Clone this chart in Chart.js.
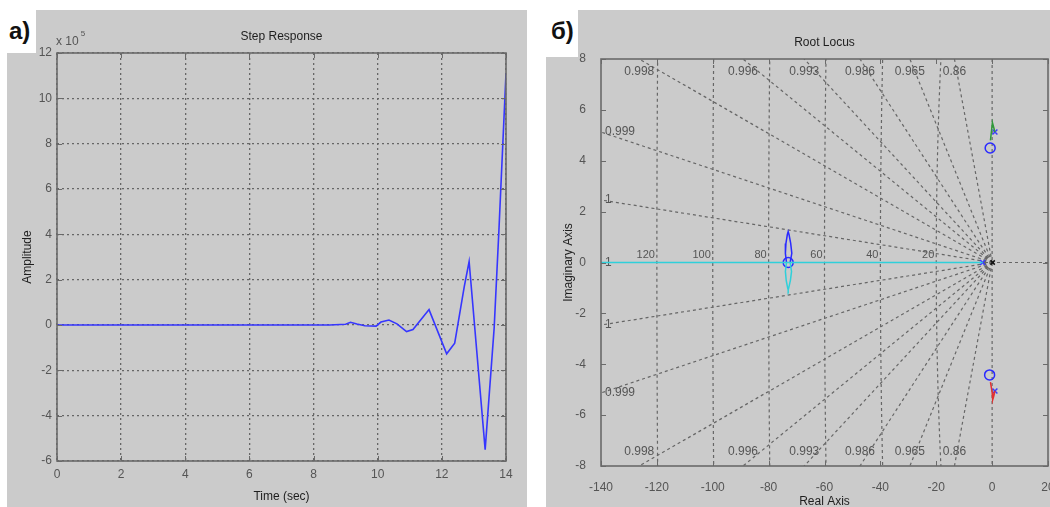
<!DOCTYPE html>
<html>
<head>
<meta charset="utf-8">
<title>Step Response / Root Locus</title>
<script src="https://cdn.jsdelivr.net/npm/chart.js@4.4.0/dist/chart.umd.min.js"></script>
<style>
  html, body { margin: 0; padding: 0; width: 1050px; height: 507px; overflow: hidden; background: #fff; }
  body { position: relative; font-family: "Liberation Sans", Arial, sans-serif; }
  .grey { position: absolute; background: #cbcbcb; }
  .tag { position: absolute; font: bold 24px "Liberation Sans Narrow", "Liberation Sans", Arial, sans-serif; color: #111; }
  canvas { position: absolute; }
</style>
</head>
<body>
<!-- figure backgrounds -->
<div class="grey" style="left:36px; top:10px; width:491px; height:44px;"></div>
<div class="grey" style="left:7px; top:53px; width:520px; height:454px;"></div>
<div class="grey" style="left:578px; top:10px; width:472px; height:48px;"></div>
<div class="grey" style="left:546px; top:57px; width:504px; height:450px;"></div>
<div class="tag" style="left:9px; top:17px;">а)</div>
<div class="tag" style="left:551px; top:17px;">б)</div>

<canvas id="step" width="520" height="497" style="left:7px; top:10px;"></canvas>
<canvas id="rlocus" width="530" height="500" style="left:546px; top:10px;"></canvas>

<script>
// step response, amplitude in units of 1e5
const stepTime = [0, 8.5, 9.0, 9.15, 9.35, 9.6, 9.95, 10.1, 10.35, 10.6, 10.9, 11.1, 11.6, 12.15, 12.4, 12.7, 12.85, 13.35, 13.63, 13.78, 14.0];
const stepAmp  = [0, 0, 0.03, 0.12, 0.04, -0.03, -0.05, 0.13, 0.22, 0.05, -0.29, -0.2, 0.68, -1.27, -0.8, 1.7, 2.8, -5.5, -0.15, 4.2, 11.1];

// root locus branches
const realBranchX = [-140, -3.4];
const realBranchY = [0, 0];
const upperLoopX = [-72.3, -71.7, -72.1, -72.7, -73.0, -73.3, -73.8, -74.0, -73.6];
const upperLoopY = [0, 0.36, 0.75, 1.1, 1.21, 1.1, 0.75, 0.36, 0];
const lowerLoopX = [-72.3, -71.8, -72.2, -72.8, -73.0, -73.2, -73.7, -74.0, -73.6];
const lowerLoopY = [0, -0.35, -0.7, -1.0, -1.08, -1.0, -0.7, -0.35, 0];
const greenBranchX = [-0.6, -0.2, 0.1, 0.6, 1.0];
const greenBranchY = [4.8, 5.2, 5.5, 5.3, 5.13];
const redBranchX = [-0.6, 0.0, 0.2, 0.6, 1.0];
const redBranchY = [-4.7, -5.1, -5.4, -5.25, -5.05];

// zeros (o) and poles (x)
const zeroX = [-73.0, -0.7, -0.9];
const zeroY = [0, 4.5, -4.42];
const poleX = [1.0, 1.0, -3.4];
const poleY = [5.13, -5.05, 0];
const originPoleX = [0.2];
const originPoleY = [0];

// s-plane grid
const dampingRatios = [0.86, 0.965, 0.986, 0.993, 0.996, 0.998, 0.99933, 0.999846, 1];
const dampingLabels = ['0.86', '0.965', '0.986', '0.993', '0.996', '0.998', '0.999', '1', '1'];
const naturalFreqs = [20, 40, 60, 80, 100, 120];

const stepTicksX = { min: 0, max: 14, step: 2 };
const stepTicksY = { min: -6, max: 12, step: 2 };
const locusTicksX = { min: -140, max: 20, step: 20 };
const locusTicksY = { min: -8, max: 8, step: 2 };

const FONT = '"Liberation Sans", Arial, sans-serif';
const tickFont = { family: FONT, size: 12 };
const tickColor = '#555';
const titleColor = '#1e1e1e';
const gridColor = '#666';

const pts = (xs, ys) => xs.map((v, i) => ({ x: v, y: ys[i] }));

// plot frame with inward tick marks on all four sides
const frame = {
  id: 'frame',
  afterDatasetsDraw(chart) {
    const { ctx, chartArea: a, scales } = chart;
    ctx.save();
    ctx.setLineDash([]);
    ctx.strokeStyle = '#6a6a6a';
    ctx.lineWidth = 1;
    ctx.beginPath();
    scales.x.ticks.forEach(t => {
      const p = Math.round(scales.x.getPixelForValue(t.value)) + 0.5;
      ctx.moveTo(p, a.bottom); ctx.lineTo(p, a.bottom - 5);
      ctx.moveTo(p, a.top); ctx.lineTo(p, a.top + 5);
    });
    scales.y.ticks.forEach(t => {
      const p = Math.round(scales.y.getPixelForValue(t.value)) + 0.5;
      ctx.moveTo(a.left, p); ctx.lineTo(a.left + 5, p);
      ctx.moveTo(a.right, p); ctx.lineTo(a.right - 5, p);
    });
    ctx.stroke();
    ctx.lineWidth = 1.6;
    ctx.strokeRect(a.left, a.top, a.right - a.left, a.bottom - a.top);
    ctx.restore();
  }
};

function panelTitle(text, exponent) {
  return {
    id: 'panelTitle',
    afterDraw(chart) {
      const { ctx, chartArea: a } = chart;
      ctx.save();
      ctx.font = '12px ' + FONT;
      ctx.fillStyle = titleColor;
      ctx.textAlign = 'center';
      ctx.textBaseline = 'middle';
      ctx.fillText(text, (a.left + a.right) / 2, a.top - 16);
      if (exponent) {
        ctx.fillStyle = tickColor;
        ctx.textAlign = 'left';
        ctx.fillText('x 10', a.left - 1, a.top - 11);
        const w = ctx.measureText('x 10').width;
        ctx.font = '8px ' + FONT;
        ctx.fillText(exponent, a.left + w + 1, a.top - 19);
      }
      ctx.restore();
    }
  };
}

// damping-ratio rays and natural-frequency circles
const sgrid = {
  id: 'sgrid',
  beforeDatasetsDraw(chart) {
    const { ctx, chartArea: a, scales: { x, y } } = chart;
    const px = v => x.getPixelForValue(v);
    const py = v => y.getPixelForValue(v);
    const rayLength = 500;
    ctx.save();
    ctx.beginPath();
    ctx.rect(a.left, a.top, a.right - a.left, a.bottom - a.top);
    ctx.clip();
    ctx.strokeStyle = gridColor;
    ctx.lineWidth = 1.2;
    ctx.setLineDash([3, 3]);

    ctx.beginPath();
    dampingRatios.forEach(z => {
      const s = Math.sqrt(Math.max(0, 1 - z * z));
      [1, -1].forEach(sg => {
        ctx.moveTo(px(0), py(0));
        ctx.lineTo(px(-rayLength * z), py(sg * rayLength * s));
      });
    });
    ctx.moveTo(a.left, py(0)); ctx.lineTo(a.right, py(0));
    ctx.moveTo(px(0), a.top); ctx.lineTo(px(0), a.bottom);
    ctx.stroke();

    naturalFreqs.forEach(w => {
      ctx.beginPath();
      for (let i = 0; i <= 720; i++) {
        const th = Math.PI / 2 + Math.PI * i / 720;
        const cx = px(w * Math.cos(th)), cy = py(w * Math.sin(th));
        if (i) ctx.lineTo(cx, cy); else ctx.moveTo(cx, cy);
      }
      ctx.stroke();
    });

    // labels
    ctx.setLineDash([]);
    ctx.fillStyle = tickColor;
    ctx.font = '12px ' + FONT;
    ctx.textBaseline = 'middle';
    dampingRatios.forEach((z, i) => {
      const s = Math.sqrt(Math.max(0, 1 - z * z));
      const xTop = s > 0 ? -y.max * z / s : -Infinity;
      if (xTop > x.min) {
        ctx.textAlign = 'center';
        ctx.fillText(dampingLabels[i], px(xTop), a.top + 13);
        ctx.fillText(dampingLabels[i], px(xTop), a.bottom - 14);
      } else {
        const yEdge = -x.min * s / z;
        ctx.textAlign = 'left';
        ctx.fillText(dampingLabels[i], a.left + 4, py(yEdge));
        if (yEdge > 0) ctx.fillText(dampingLabels[i], a.left + 4, py(-yEdge));
      }
    });
    ctx.font = '11px ' + FONT;
    ctx.textAlign = 'right';
    ctx.textBaseline = 'alphabetic';
    naturalFreqs.forEach(w => ctx.fillText(String(w), px(-w) - 2, py(0) - 5));
    ctx.restore();
  }
};

function axis(range, pad, opts) {
  return Object.assign({
    type: 'linear',
    min: range.min,
    max: range.max,
    ticks: { stepSize: range.step, padding: pad, color: tickColor, font: tickFont, maxRotation: 0, autoSkip: false }
  }, opts);
}

new Chart(document.getElementById('step'), {
  type: 'scatter',
  data: {
    datasets: [{
      data: pts(stepTime, stepAmp),
      showLine: true,
      borderColor: '#3636ff',
      borderWidth: 1.6,
      pointRadius: 0,
      tension: 0
    }]
  },
  options: {
    responsive: false,
    animation: false,
    devicePixelRatio: 1,
    layout: { padding: { top: 43, right: 21, left: 0, bottom: 0 } },
    plugins: { legend: { display: false }, tooltip: { enabled: false } },
    scales: {
      x: axis(stepTicksX, 6, {
        grid: { color: gridColor, lineWidth: 1.3, drawTicks: false },
        border: { display: false, dash: [2, 3] },
        title: { display: true, text: 'Time (sec)', color: titleColor, font: tickFont, padding: { top: 0, bottom: 3 } },
        afterFit: s => { s.height = 46; }
      }),
      y: axis(stepTicksY, 5, {
        grid: { color: gridColor, lineWidth: 1.3, drawTicks: false },
        border: { display: false, dash: [2, 3] },
        title: { display: true, text: 'Amplitude', color: titleColor, font: tickFont, padding: { top: 13, bottom: 0 } },
        afterFit: s => { s.width = 50; }
      })
    }
  },
  plugins: [frame, panelTitle('Step Response', '5')]
});

const lineSet = (xs, ys, color) => ({
  data: pts(xs, ys), showLine: true, borderColor: color, borderWidth: 1.5, pointRadius: 0, tension: 0
});
const markSet = (xs, ys, style, color, r) => ({
  data: pts(xs, ys), showLine: false, pointStyle: style, pointRadius: r,
  borderColor: color, backgroundColor: 'rgba(0,0,0,0)', pointBorderWidth: 1.5
});

new Chart(document.getElementById('rlocus'), {
  type: 'scatter',
  data: {
    datasets: [
      lineSet(realBranchX, realBranchY, '#2fd0da'),
      lineSet(upperLoopX, upperLoopY, '#2a2aff'),
      lineSet(lowerLoopX, lowerLoopY, '#2fd0da'),
      lineSet(greenBranchX, greenBranchY, '#2f9a3a'),
      lineSet(redBranchX, redBranchY, '#e23030'),
      markSet(zeroX, zeroY, 'circle', '#2a2aff', 5),
      markSet(poleX, poleY, 'crossRot', '#3a3aff', 3.5),
      markSet(originPoleX, originPoleY, 'crossRot', '#111', 3)
    ]
  },
  options: {
    responsive: false,
    animation: false,
    devicePixelRatio: 1,
    layout: { padding: { top: 49, right: 28, left: 0, bottom: 0 } },
    plugins: { legend: { display: false }, tooltip: { enabled: false } },
    scales: {
      x: axis(locusTicksX, 6, {
        grid: { display: false },
        border: { display: false },
        title: { display: true, text: 'Real Axis', color: titleColor, font: tickFont, padding: { top: 0, bottom: 1 } },
        afterFit: s => { s.height = 44; }
      }),
      y: axis(locusTicksY, 7, {
        grid: { display: false },
        border: { display: false },
        title: { display: true, text: 'Imaginary Axis', color: titleColor, font: tickFont, padding: { top: 15, bottom: 0 } },
        afterFit: s => { s.width = 55; }
      })
    }
  },
  plugins: [sgrid, frame, panelTitle('Root Locus')]
});
</script>
</body>
</html>
